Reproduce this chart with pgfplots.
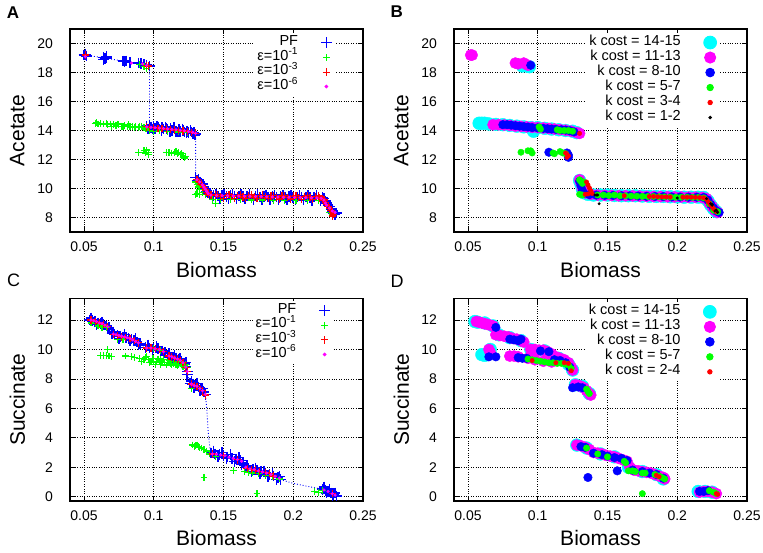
\documentclass[border=0pt]{standalone}
\usepackage{fontspec}
\setmainfont{Liberation Sans}
\usepackage{pgfplots}
\pgfplotsset{compat=1.18}
\definecolor{cgreen}{RGB}{0,255,0}
\definecolor{ccyan}{RGB}{0,255,255}
\definecolor{cmag}{RGB}{255,0,255}
\definecolor{cblue}{RGB}{0,0,255}
\definecolor{cred}{RGB}{255,0,0}
\pgfplotsset{
  panel/.style={
    scale only axis, width=293pt,
    xmin=0.04, xmax=0.25,
    xtick={0.05,0.1,0.15,0.2,0.25},
    xticklabels={0.05,0.1,0.15,0.2,0.25},
    tick align=inside, major tick length=5.5pt,
    tick style={black, line width=0.6pt},
    grid=major, grid style={black, dotted, line width=0.6pt},
    axis line style={black, line width=1.1pt},
    ticklabel style={font=\fontsize{14}{16}\selectfont},
    /pgf/number format/assume math mode=true,
    xticklabel style={yshift=-6.4pt},
    yticklabel style={xshift=-13.5pt},
    xlabel={Biomass},
    label style={font=\fontsize{21}{24}\selectfont},
    xlabel style={at={(axis description cs:0.5,-0.185)}, anchor=center},
    ylabel style={at={(axis description cs:-0.18,0.5)}, anchor=center},
    legend cell align=right,
    legend plot pos=right,
    legend image post style={line width=0.9pt},
    legend style={draw=none, fill=white, anchor=north east, inner xsep=3pt, inner ysep=2pt, column sep=23pt, font=\fontsize{14.5}{16}\selectfont, nodes={inner sep=0pt, text height=10pt, text depth=4.6pt}},
  },
  pf/.style={only marks, mark=+, color=cblue, mark size=5.3pt, line width=1.5pt},
  e1/.style={only marks, mark=+, color=cgreen, mark size=3.4pt, line width=1.2pt},
  e3/.style={only marks, mark=+, color=cred, mark size=3.7pt, line width=1.2pt},
  e6/.style={only marks, mark=*, color=cmag, mark size=1.4pt},
  pfline/.style={cblue, dotted, line width=0.9pt, forget plot},
  k1/.style={only marks, mark=*, color=ccyan, mark size=6.4pt},
  k2/.style={only marks, mark=*, color=cmag, mark size=5.6pt},
  k3/.style={only marks, mark=*, color=cblue, mark size=4.3pt},
  k4/.style={only marks, mark=*, color=cgreen, mark size=3.2pt},
  k5/.style={only marks, mark=*, color=cred, mark size=2.2pt},
  k6/.style={only marks, mark=*, color=black, mark size=1.3pt},
}
\begin{document}
\begin{tikzpicture}
\path[use as bounding box] (0,0) rectangle (763pt,552pt);
\node[font=\fontsize{17}{20}\selectfont\bfseries] at (13pt,539.7pt) {A};
\node[font=\fontsize{17}{20}\selectfont\bfseries] at (396.7pt,540pt) {B};
\node[font=\fontsize{18}{20}\selectfont] at (13.5pt,272pt) {C};
\node[font=\fontsize{18}{20}\selectfont] at (397pt,271pt) {D};

% ---------------- Panel A ----------------
\begin{axis}[panel, at={(70pt,320pt)}, anchor=south west, height=203pt,
  ymin=7, ymax=21, ytick={8,10,12,14,16,18,20}, ylabel={Acetate},
  legend style={at={(axis description cs:0.904,0.979)}}]
\addplot[pf] coordinates {
(0.051,19.25) (0.052,19.15) (0.050,19.2) (0.064,19.05) (0.065,18.95) (0.066,19.0)
(0.064,18.9) (0.066,19.1)
(0.078,18.8) (0.079,18.75) (0.080,18.8) (0.083,18.7) (0.089,18.65) (0.091,18.6)
(0.093,18.55) (0.095,18.5) (0.097,18.45)
(0.095,14.3) (0.097,14.35) (0.098,14.2) (0.100,14.3) (0.101,14.15) (0.103,14.25)
(0.104,14.1) (0.106,14.2) (0.107,14.1) (0.109,14.15) (0.110,14.05) (0.112,14.15)
(0.113,14.0) (0.115,14.1) (0.116,13.95) (0.118,14.05) (0.119,13.95) (0.121,14.0)
(0.122,13.9) (0.124,13.95) (0.125,13.85) (0.127,13.9) (0.128,13.8) (0.129,13.85) (0.130,13.75)
(0.096,14.1) (0.0995,14.1) (0.1025,14.3) (0.1055,14.0) (0.1085,14.25) (0.1115,13.95)
(0.1145,14.2) (0.1175,13.9) (0.1205,14.1) (0.1235,13.85) (0.1265,14.0) (0.1295,13.7)
(0.130,10.75) (0.131,10.55) (0.132,10.6) (0.133,10.45) (0.134,10.35) (0.135,10.3)
(0.136,10.1) (0.137,9.95) (0.138,9.8) (0.139,9.7) (0.140,9.6) (0.141,9.55)
(0.143,9.52) (0.146,9.47) (0.149,9.51) (0.152,9.46) (0.155,9.50) (0.158,9.45)
(0.161,9.49) (0.164,9.44) (0.167,9.48) (0.170,9.43) (0.173,9.47) (0.176,9.42)
(0.179,9.46) (0.182,9.41) (0.185,9.45) (0.188,9.40) (0.191,9.44) (0.194,9.39)
(0.197,9.43) (0.200,9.38) (0.203,9.42) (0.206,9.37) (0.209,9.41) (0.212,9.36)
(0.215,9.40) (0.218,9.35) (0.221,9.38)
(0.1445,9.62) (0.1475,9.30) (0.1505,9.61) (0.1535,9.29) (0.1565,9.60) (0.1595,9.28)
(0.1625,9.59) (0.1655,9.27) (0.1685,9.58) (0.1715,9.26) (0.1745,9.57) (0.1775,9.25)
(0.1805,9.56) (0.1835,9.24) (0.1865,9.55) (0.1895,9.23) (0.1925,9.54) (0.1955,9.22)
(0.1985,9.53) (0.2015,9.21) (0.2045,9.52) (0.2075,9.20) (0.2105,9.51) (0.2135,9.19)
(0.2165,9.50) (0.2195,9.18)
(0.222,9.3) (0.223,9.15) (0.224,9.0) (0.225,8.85) (0.226,8.75) (0.227,8.6)
(0.228,8.45) (0.229,8.3) (0.230,8.2) (0.231,8.3)
};
\addlegendentry{PF}
\addplot[e1] coordinates {
(0.090,18.55) (0.093,18.4) (0.095,18.3)
(0.058,14.5) (0.059,14.55) (0.060,14.45) (0.062,14.5) (0.064,14.45) (0.066,14.5)
(0.067,14.4) (0.069,14.45) (0.071,14.4) (0.073,14.35) (0.075,14.4) (0.077,14.3)
(0.079,14.35) (0.081,14.3) (0.083,14.3) (0.085,14.25) (0.087,14.3) (0.089,14.2)
(0.091,14.25) (0.093,14.2) (0.095,14.15)
(0.070,14.3) (0.074,14.45) (0.078,14.25) (0.082,14.4) (0.086,14.2) (0.090,14.3) (0.094,14.1)
(0.097,14.0) (0.100,13.95) (0.104,14.0) (0.110,13.95) (0.118,13.9) (0.124,13.85)
(0.089,12.5) (0.093,12.6) (0.094,12.45) (0.095,12.65) (0.096,12.5) (0.096,12.35)
(0.109,12.5) (0.111,12.5) (0.113,12.45) (0.115,12.5) (0.116,12.55) (0.117,12.4)
(0.118,12.5) (0.119,12.35) (0.120,12.4) (0.121,12.25) (0.122,12.1) (0.123,12.2)
(0.130,10.45) (0.131,10.25) (0.132,10.1) (0.133,9.95) (0.130,9.6) (0.131,9.65)
(0.133,9.6) (0.135,9.7) (0.137,9.6) (0.144,8.95)
(0.142,9.25) (0.148,9.25) (0.155,9.22) (0.162,9.22) (0.170,9.2) (0.178,9.2)
(0.186,9.18) (0.194,9.18) (0.202,9.15) (0.210,9.15) (0.218,9.15) (0.226,8.35) (0.228,8.2)
};
\addlegendentry{ε=10\textsuperscript{-1}}
\addplot[e3] coordinates {
(0.051,19.2) (0.095,18.5) (0.096,18.45)
(0.095,14.25) (0.097,14.2) (0.100,14.2) (0.103,14.15) (0.106,14.12) (0.109,14.1)
(0.112,14.07) (0.115,14.03) (0.118,14.0) (0.121,13.97) (0.124,13.93) (0.127,13.88) (0.130,13.82)
(0.131,10.6) (0.132,10.5) (0.133,10.4) (0.134,10.3) (0.135,10.2) (0.136,10.05)
(0.137,9.9) (0.138,9.75) (0.139,9.6) (0.141,9.55)
(0.144,9.55) (0.148,9.45) (0.152,9.53) (0.156,9.43) (0.160,9.52) (0.164,9.42)
(0.168,9.51) (0.172,9.41) (0.176,9.5) (0.180,9.4) (0.184,9.49) (0.188,9.39)
(0.192,9.48) (0.196,9.38) (0.200,9.47) (0.204,9.37) (0.208,9.46) (0.212,9.36)
(0.216,9.45) (0.219,9.35) (0.221,9.3)
(0.146,9.58) (0.150,9.33) (0.154,9.57) (0.158,9.32) (0.162,9.56) (0.166,9.31)
(0.170,9.55) (0.174,9.30) (0.178,9.54) (0.182,9.29) (0.186,9.53) (0.190,9.28)
(0.194,9.52) (0.198,9.27) (0.202,9.51) (0.206,9.26) (0.210,9.5) (0.214,9.25) (0.218,9.48)
(0.222,9.2) (0.223,9.05) (0.224,8.9) (0.225,8.75) (0.226,8.6) (0.227,8.5)
(0.228,8.35) (0.229,8.2) (0.228,8.1)
};
\addlegendentry{ε=10\textsuperscript{-3}}
\addplot[pfline] coordinates {
(0.051,19.2) (0.065,19.0) (0.080,18.75) (0.090,18.6) (0.097,18.45) (0.097,14.3)
(0.110,14.1) (0.130,13.8) (0.130,10.65) (0.135,10.25) (0.138,9.8) (0.141,9.55)
(0.180,9.45) (0.221,9.35) (0.224,8.9) (0.231,8.3)
};
\addplot[e6] coordinates {
(0.051,19.1) (0.084,18.65) (0.092,18.6) (0.095,18.5)
(0.095,14.25) (0.098,14.22) (0.101,14.2) (0.104,14.17) (0.107,14.14) (0.110,14.11)
(0.113,14.08) (0.116,14.05) (0.119,14.02) (0.122,13.98) (0.125,13.93) (0.128,13.88) (0.130,13.8)
(0.131,10.6) (0.133,10.45) (0.135,10.25) (0.136,10.1) (0.137,9.95) (0.138,9.8)
(0.139,9.65) (0.141,9.55) (0.145,9.52) (0.149,9.51) (0.153,9.5) (0.157,9.49)
(0.161,9.48) (0.165,9.47) (0.169,9.46) (0.173,9.45) (0.177,9.44) (0.181,9.43)
(0.185,9.42) (0.189,9.41) (0.193,9.4) (0.197,9.4) (0.201,9.39) (0.205,9.38)
(0.209,9.37) (0.213,9.36) (0.217,9.35) (0.220,9.33) (0.222,9.2) (0.223,9.0)
(0.224,8.85) (0.226,8.65) (0.228,8.45) (0.230,8.35)
};
\addlegendentry{ε=10\textsuperscript{-6}}
\end{axis}

% ---------------- Panel B ----------------
\begin{axis}[panel, at={(454pt,320pt)}, anchor=south west, height=203pt,
  ymin=7, ymax=21, ytick={8,10,12,14,16,18,20}, ylabel={Acetate},
  legend style={at={(axis description cs:0.907,0.981)}, nodes={text height=10.5pt, text depth=4.5pt}}]
\addplot[k1] coordinates {
(0.089,18.45) (0.092,18.45) (0.094,18.4)
(0.058,14.5) (0.060,14.5) (0.062,14.5) (0.065,14.45) (0.070,14.42) (0.075,14.4)
(0.080,14.35) (0.085,14.3) (0.090,14.25) (0.095,14.2) (0.097,13.95) (0.100,14.2)
(0.105,14.15) (0.110,14.1) (0.115,14.05) (0.120,14.0) (0.125,13.95) (0.128,13.85)
(0.130,10.55) (0.131,10.3) (0.132,9.95) (0.133,9.7) (0.136,9.6) (0.140,9.55)
(0.145,9.55) (0.150,9.55) (0.155,9.52) (0.160,9.5) (0.165,9.5) (0.170,9.5)
(0.175,9.48) (0.180,9.46) (0.185,9.45) (0.190,9.45) (0.195,9.43) (0.200,9.42)
(0.205,9.4) (0.210,9.4) (0.215,9.4) (0.219,9.38) (0.222,9.15) (0.224,8.85)
(0.226,8.6) (0.228,8.4)
};
\addlegendentry{k cost = 14-15}
\addplot[k2] coordinates {
(0.052,19.2) (0.053,19.2) (0.084,18.65) (0.086,18.6) (0.090,18.65) (0.093,18.5)
(0.068,14.4) (0.072,14.4) (0.076,14.38) (0.080,14.35) (0.084,14.3) (0.088,14.28)
(0.092,14.25) (0.096,14.22) (0.100,14.2) (0.104,14.17) (0.108,14.14) (0.112,14.1)
(0.116,14.06) (0.120,14.02) (0.124,13.95) (0.128,13.85) (0.130,13.8)
(0.130,10.6) (0.131,10.35) (0.132,10.0) (0.134,9.7) (0.138,9.6) (0.143,9.55)
(0.148,9.53) (0.153,9.52) (0.158,9.5) (0.163,9.5) (0.168,9.49) (0.173,9.48)
(0.178,9.46) (0.183,9.45) (0.188,9.44) (0.193,9.43) (0.198,9.42) (0.203,9.41)
(0.208,9.4) (0.213,9.4) (0.218,9.38) (0.221,9.3) (0.223,9.0) (0.225,8.75)
(0.227,8.5) (0.229,8.35)
};
\addlegendentry{k cost = 11-13}
\addplot[k3] coordinates {
(0.095,18.5)
(0.075,14.4) (0.078,14.4) (0.081,14.37) (0.084,14.33) (0.087,14.3) (0.090,14.27)
(0.093,14.24) (0.096,14.2) (0.100,14.18) (0.104,14.15) (0.107,14.12) (0.110,14.1)
(0.113,14.08) (0.117,14.05) (0.120,14.03) (0.123,13.98) (0.126,13.9)
(0.108,12.5) (0.121,12.45) (0.122,12.3) (0.122,12.15)
(0.130,10.5) (0.131,10.2) (0.132,9.85) (0.133,9.65) (0.137,9.58) (0.142,9.55)
(0.148,9.53) (0.154,9.52) (0.160,9.5) (0.166,9.49) (0.172,9.48) (0.178,9.46)
(0.184,9.45) (0.190,9.44) (0.196,9.42) (0.202,9.41) (0.208,9.4) (0.214,9.4)
(0.219,9.38) (0.222,9.2) (0.224,8.9) (0.226,8.65) (0.228,8.45) (0.230,8.35)
};
\addlegendentry{k cost = 8-10}
\addplot[k4] coordinates {
(0.088,12.5) (0.093,12.6) (0.095,12.6) (0.096,12.45) (0.111,12.45) (0.112,12.4)
(0.116,12.55) (0.118,12.45) (0.120,12.4)
(0.101,14.25) (0.102,14.1) (0.114,14.05) (0.116,14.0) (0.119,14.0) (0.122,14.0) (0.125,13.95)
(0.130,10.6) (0.131,10.5) (0.132,10.35) (0.133,10.45) (0.130,9.6) (0.132,9.55)
(0.143,9.55) (0.147,9.55) (0.151,9.52) (0.155,9.55) (0.159,9.5) (0.163,9.5)
(0.167,9.48) (0.171,9.47) (0.175,9.46) (0.179,9.45) (0.183,9.45) (0.187,9.43)
(0.191,9.42) (0.195,9.41) (0.199,9.4) (0.203,9.4) (0.207,9.4) (0.211,9.39)
(0.215,9.38) (0.219,9.35) (0.223,8.95) (0.226,8.5) (0.229,8.4)
};
\addlegendentry{k cost = 5-7}
\addplot[k5] coordinates {
(0.130,13.8)
(0.120,12.45) (0.121,12.35) (0.122,12.25) (0.121,12.15)
(0.135,10.45) (0.136,10.25) (0.137,10.05) (0.138,9.85) (0.139,9.65) (0.134,9.6) (0.136,9.62)
(0.162,9.5) (0.180,9.45) (0.183,9.45) (0.186,9.43) (0.189,9.42) (0.192,9.42)
(0.195,9.41) (0.204,9.4) (0.207,9.4) (0.210,9.4) (0.213,9.39) (0.216,9.38)
(0.219,9.36) (0.221,9.25) (0.222,9.1) (0.223,9.0) (0.224,8.85) (0.225,8.75)
(0.226,8.6) (0.227,8.5) (0.228,8.4)
};
\addlegendentry{k cost = 3-4}
\addplot[k6] coordinates {
(0.141,9.55) (0.142,9.55) (0.143,9.55) (0.144,8.95) (0.200,9.35) (0.221,9.3)
(0.224,8.95) (0.225,8.85) (0.225,8.9) (0.227,8.45) (0.228,8.5) (0.229,8.35)
};
\addlegendentry{k cost = 1-2}
\end{axis}

% ---------------- Panel C ----------------
\begin{axis}[panel, at={(70pt,51pt)}, anchor=south west, height=202.3pt,
  ymin=-0.3, ymax=13.45, ytick={0,2,4,6,8,10,12}, ylabel={Succinate},
  legend style={at={(axis description cs:0.898,0.988)}}]
\addplot[pf] coordinates {
(0.054,12.0) (0.056,11.95) (0.058,11.9) (0.060,11.8) (0.062,11.75) (0.064,11.7)
(0.066,11.6) (0.068,11.5)
(0.055,12.15) (0.059,11.7) (0.063,11.85) (0.067,11.4)
(0.070,11.1) (0.072,11.0) (0.074,10.95) (0.076,10.9) (0.078,10.85) (0.080,10.8)
(0.082,10.75) (0.084,10.7) (0.086,10.6) (0.088,10.5) (0.090,10.4)
(0.071,11.2) (0.075,10.75) (0.079,11.0) (0.083,10.6) (0.087,10.75) (0.089,10.3)
(0.094,10.15) (0.097,10.1) (0.100,10.1) (0.103,10.05) (0.106,9.9) (0.108,9.8)
(0.096,10.3) (0.099,9.95) (0.102,10.2) (0.105,9.8)
(0.110,9.6) (0.112,9.5) (0.114,9.45) (0.116,9.4) (0.118,9.3) (0.120,9.2)
(0.122,9.0) (0.123,8.8) (0.124,8.5) (0.124,8.3)
(0.111,9.75) (0.113,9.35) (0.115,9.6) (0.117,9.2) (0.119,9.4) (0.121,8.95) (0.123,9.1)
(0.126,7.7) (0.128,7.65) (0.130,7.55) (0.132,7.45) (0.134,7.3) (0.136,7.1) (0.137,6.95)
(0.127,7.85) (0.129,7.4) (0.131,7.7) (0.133,7.2) (0.135,7.35)
(0.141,2.95) (0.144,2.9) (0.147,2.85) (0.150,2.8) (0.153,2.7) (0.156,2.6)
(0.159,2.55) (0.162,2.45) (0.164,2.3) (0.166,2.0) (0.168,1.9) (0.171,1.85)
(0.174,1.8) (0.177,1.7) (0.180,1.6) (0.183,1.5) (0.186,1.4) (0.189,1.3) (0.191,1.15)
(0.143,3.1) (0.146,2.7) (0.149,3.0) (0.152,2.6) (0.155,2.85) (0.158,2.4) (0.161,2.65)
(0.163,2.2) (0.167,2.1) (0.170,1.7) (0.173,1.95) (0.176,1.55) (0.179,1.75)
(0.182,1.35) (0.185,1.55) (0.188,1.15) (0.190,1.35)
(0.221,0.5) (0.223,0.4) (0.225,0.35) (0.227,0.25) (0.229,0.15) (0.231,0.05)
(0.222,0.65) (0.224,0.25) (0.226,0.5) (0.228,0.05) (0.230,0.25)
};
\addlegendentry{PF}
\addplot[e1] coordinates {
(0.055,11.8) (0.058,11.75) (0.060,11.6) (0.063,11.5) (0.066,11.5)
(0.062,9.6) (0.064,9.6) (0.066,9.6) (0.068,9.55) (0.070,9.5) (0.067,10.0)
(0.080,9.55) (0.084,9.5) (0.086,9.45) (0.074,10.7) (0.078,10.7)
(0.090,9.4) (0.093,9.3) (0.096,9.3) (0.098,9.2) (0.100,9.2) (0.102,9.15)
(0.104,9.15) (0.106,9.1) (0.108,9.1) (0.110,9.1) (0.112,9.05) (0.114,9.05)
(0.116,9.0) (0.118,9.0) (0.120,8.95) (0.122,8.9) (0.124,8.8)
(0.091,9.2) (0.094,9.45) (0.097,9.1) (0.099,9.4) (0.101,9.0) (0.103,9.35)
(0.105,9.0) (0.107,9.3) (0.109,8.95) (0.111,9.25) (0.113,8.95) (0.115,9.2)
(0.117,8.9) (0.119,9.15) (0.121,8.85) (0.123,9.0)
(0.095,9.5) (0.100,9.4) (0.105,9.35) (0.100,10.05) (0.105,9.95)
(0.127,7.35)
(0.128,3.5) (0.130,3.45) (0.132,3.4) (0.134,3.3) (0.136,3.2) (0.138,3.1)
(0.140,2.9) (0.144,2.75) (0.129,3.4) (0.131,3.5) (0.133,3.35)
(0.136,1.3) (0.157,1.75) (0.165,1.7) (0.168,1.65) (0.171,1.6) (0.175,1.55)
(0.180,1.45) (0.185,1.35) (0.190,1.2) (0.174,0.2)
(0.215,0.35) (0.218,0.3) (0.221,0.4)
};
\addlegendentry{ε=10\textsuperscript{-1}}
\addplot[e3] coordinates {
(0.055,12.0) (0.058,11.9) (0.061,11.8) (0.064,11.7) (0.067,11.55)
(0.071,11.0) (0.074,10.95) (0.077,10.85) (0.080,10.8) (0.083,10.75) (0.086,10.6) (0.089,10.45)
(0.095,10.1) (0.098,10.1) (0.101,10.05) (0.104,10.0) (0.107,9.85)
(0.111,9.55) (0.113,9.5) (0.115,9.4) (0.117,9.35) (0.119,9.25) (0.121,9.1) (0.123,8.8) (0.124,8.5)
(0.127,7.65) (0.129,7.55) (0.131,7.5) (0.133,7.35) (0.135,7.2) (0.137,6.9)
(0.142,2.9) (0.150,2.8) (0.160,2.5) (0.167,1.9) (0.170,1.85) (0.173,1.8)
(0.176,1.7) (0.180,1.65) (0.183,1.55) (0.186,1.4) (0.228,0.2)
};
\addlegendentry{ε=10\textsuperscript{-3}}
\addplot[pfline] coordinates {
(0.054,12.0) (0.068,11.5) (0.070,11.1) (0.090,10.4) (0.094,10.15) (0.108,9.8)
(0.110,9.6) (0.124,8.4) (0.126,7.7) (0.137,6.95) (0.138,6.0) (0.139,4.5)
(0.140,3.5) (0.141,2.95) (0.164,2.3) (0.166,2.0) (0.191,1.15) (0.200,0.9)
(0.210,0.7) (0.221,0.5) (0.232,0.0)
};
\addplot[e6] coordinates {
(0.055,12.0) (0.057,11.95) (0.059,11.9) (0.061,11.8) (0.063,11.75) (0.065,11.65) (0.067,11.55)
(0.071,11.05) (0.073,11.0) (0.075,10.95) (0.077,10.9) (0.079,10.85) (0.081,10.8)
(0.083,10.75) (0.085,10.65) (0.087,10.55) (0.089,10.45)
(0.095,10.1) (0.098,10.1) (0.101,10.05) (0.104,10.0) (0.107,9.85)
(0.111,9.55) (0.113,9.5) (0.115,9.42) (0.117,9.35) (0.119,9.25) (0.121,9.1) (0.123,8.8) (0.124,8.5)
(0.127,7.65) (0.129,7.55) (0.131,7.5) (0.133,7.35) (0.135,7.2) (0.137,6.95)
(0.142,2.9) (0.145,2.88) (0.148,2.83) (0.151,2.78) (0.154,2.68) (0.157,2.6)
(0.160,2.52) (0.163,2.4) (0.166,2.0) (0.169,1.88) (0.172,1.83) (0.175,1.75)
(0.178,1.68) (0.181,1.6) (0.184,1.5) (0.187,1.38) (0.190,1.25)
(0.222,0.45) (0.225,0.35) (0.228,0.2) (0.230,0.1)
};
\addlegendentry{ε=10\textsuperscript{-6}}
\end{axis}

% ---------------- Panel D ----------------
\begin{axis}[panel, at={(454pt,51pt)}, anchor=south west, height=202.3pt,
  ymin=-0.3, ymax=13.45, ytick={0,2,4,6,8,10,12}, ylabel={Succinate},
  legend style={at={(axis description cs:0.906,0.983)}, nodes={text height=10.5pt, text depth=4.5pt}}]
\addplot[k1] coordinates {
(0.055,11.9) (0.057,11.85) (0.060,9.65) (0.062,9.6) (0.066,10.0)
(0.062,11.8) (0.068,11.6) (0.072,11.0) (0.080,10.8) (0.088,10.6) (0.095,10.0)
(0.105,9.9) (0.115,9.4) (0.122,9.0) (0.125,8.6) (0.127,7.6) (0.132,7.5) (0.137,7.0)
(0.128,3.5) (0.135,3.3) (0.145,2.9) (0.155,2.7) (0.165,2.0) (0.175,1.7)
(0.185,1.5) (0.190,1.2) (0.215,0.35) (0.220,0.35) (0.225,0.3)
};
\addlegendentry{k cost = 14-15}
\addplot[k2] coordinates {
(0.056,11.9) (0.058,11.85) (0.060,11.8) (0.062,11.75) (0.064,11.7) (0.066,11.65) (0.068,11.6)
(0.070,11.0) (0.073,10.95) (0.076,10.9) (0.079,10.85) (0.082,10.75) (0.085,10.7) (0.088,10.6) (0.090,10.5)
(0.065,10.0) (0.066,9.8) (0.080,9.55) (0.083,9.55) (0.086,9.5)
(0.095,10.0) (0.098,10.0) (0.101,9.95) (0.104,9.95) (0.107,9.85) (0.110,9.7)
(0.113,9.5) (0.116,9.4) (0.119,9.3) (0.122,9.1) (0.124,8.8) (0.125,8.6)
(0.093,9.4) (0.098,9.3) (0.104,9.2) (0.110,9.15)
(0.127,7.6) (0.129,7.55) (0.131,7.5) (0.133,7.4) (0.135,7.2) (0.137,7.0) (0.138,6.9)
(0.128,3.5) (0.131,3.45) (0.134,3.35) (0.137,3.2) (0.140,3.0) (0.143,2.95)
(0.146,2.9) (0.149,2.8) (0.152,2.75) (0.155,2.7) (0.158,2.6) (0.161,2.5)
(0.164,2.4) (0.166,2.0) (0.169,1.8) (0.172,1.75) (0.175,1.7) (0.178,1.65)
(0.181,1.6) (0.184,1.5) (0.187,1.4) (0.190,1.3) (0.191,1.2)
(0.216,0.3) (0.219,0.35) (0.222,0.35) (0.225,0.3) (0.228,0.2)
};
\addlegendentry{k cost = 11-13}
\addplot[k3] coordinates {
(0.070,11.5) (0.065,9.5) (0.070,9.5) (0.080,10.7) (0.083,10.65) (0.086,10.6) (0.088,10.7)
(0.086,9.45) (0.089,9.4) (0.092,9.4) (0.102,9.9) (0.108,9.85)
(0.112,9.3) (0.116,9.25) (0.120,9.1) (0.123,8.8)
(0.125,7.4) (0.129,7.45) (0.132,7.4)
(0.131,3.4) (0.134,3.35) (0.140,2.95) (0.146,2.85) (0.150,2.75) (0.155,2.65)
(0.160,2.6) (0.164,2.45) (0.168,1.8) (0.175,1.7) (0.180,1.6) (0.185,1.5) (0.190,1.25)
(0.136,1.3) (0.157,1.75)
(0.216,0.35) (0.219,0.35) (0.222,0.4)
};
\addlegendentry{k cost = 8-10}
\addplot[k4] coordinates {
(0.093,9.35) (0.096,9.3) (0.099,9.25) (0.102,9.2) (0.105,9.15) (0.108,9.1)
(0.111,9.1) (0.114,9.05) (0.117,9.05) (0.120,9.0) (0.122,8.95) (0.124,8.7)
(0.135,7.3) (0.136,7.15) (0.137,7.0)
(0.135,3.3) (0.143,2.9) (0.150,2.7) (0.162,2.4) (0.163,2.3) (0.165,1.75)
(0.168,1.75) (0.170,1.7) (0.175,1.6) (0.177,1.6) (0.184,1.5) (0.187,1.4)
(0.189,1.3) (0.191,1.2) (0.175,0.2)
(0.223,0.4) (0.226,0.3) (0.228,0.2)
};
\addlegendentry{k cost = 5-7}
\addplot[k5] coordinates {
(0.096,9.25) (0.113,9.1) (0.119,9.1) (0.122,9.05) (0.124,8.55)
(0.185,1.45) (0.187,1.35) (0.228,0.2) (0.229,0.15)
};
\addlegendentry{k cost = 2-4}
\end{axis}
\end{tikzpicture}
\end{document}
